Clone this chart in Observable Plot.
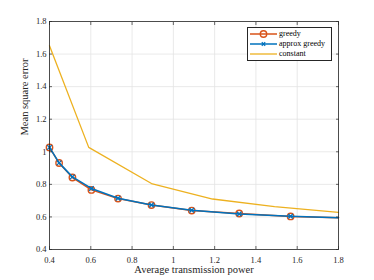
<!DOCTYPE html>
<html><head><meta charset="utf-8">
<script src="https://cdn.jsdelivr.net/npm/d3@7"></script>
<script src="https://cdn.jsdelivr.net/npm/@observablehq/plot@0.6"></script>
<style>
html,body{margin:0;padding:0;background:#fff;}
#wrap{position:relative;width:374px;height:280px;font-family:"Liberation Serif","DejaVu Serif",serif;}
#legend{position:absolute;left:247px;top:27px;width:83px;height:32px;border:0.8px solid #262626;background:#fff;font-size:8px;color:#000;}
#legend .row{position:absolute;left:2px;height:10px;display:flex;align-items:center;}
#legend svg{display:block;}
#legend span{margin-left:2px;line-height:10px;}
</style>
</head><body>
<div id="wrap"></div>
<script>
// data
const powerGreedy = [0.4, 0.4465, 0.511, 0.603, 0.732, 0.894, 1.089, 1.319, 1.568, 1.8];
const mseGreedy   = [1.027, 0.931, 0.842, 0.766, 0.713, 0.673, 0.639, 0.621, 0.603, 0.595];
const mseApprox   = [1.027, 0.932, 0.846, 0.775, 0.715, 0.673, 0.641, 0.618, 0.604, 0.595];
const powerConst  = [0.4, 0.59, 0.894, 1.19, 1.49, 1.8];
const mseConst    = [1.651, 1.027, 0.805, 0.71, 0.663, 0.628];
const xTicks = [0.4, 0.6, 0.8, 1, 1.2, 1.4, 1.6, 1.8];
const yTicks = [0.4, 0.6, 0.8, 1, 1.2, 1.4, 1.6, 1.8];
const seriesNames = ["greedy", "approx greedy", "constant"];
const seriesColors = ["#D95319", "#0072BD", "#EDB120"];

const greedy = powerGreedy.map((p, i) => ({p, v: mseGreedy[i]}));
const approx = powerGreedy.map((p, i) => ({p, v: mseApprox[i]}));
const constant = powerConst.map((p, i) => ({p, v: mseConst[i]}));
const markerData = (arr) => arr.slice(0, -1);

const fmt = d => String(d);
const axisColor = "#262626";

const chart = Plot.plot({
  width: 374, height: 280,
  marginLeft: 49, marginRight: 36, marginTop: 21, marginBottom: 31,
  style: {fontFamily: "'Liberation Serif','DejaVu Serif',serif", fontSize: "8.5px", color: axisColor, background: "#fff"},
  x: {domain: [0.4, 1.8], ticks: xTicks},
  y: {domain: [0.4, 1.8], ticks: yTicks},
  marks: [
    Plot.gridX(xTicks, {stroke: "#e3e3e3", strokeOpacity: 1, strokeWidth: 0.8}),
    Plot.gridY(yTicks, {stroke: "#e3e3e3", strokeOpacity: 1, strokeWidth: 0.8}),
    Plot.line(constant, {x: "p", y: "v", stroke: seriesColors[2], strokeWidth: 1.3}),
    Plot.line(greedy, {x: "p", y: "v", stroke: seriesColors[0], strokeWidth: 1.5}),
    Plot.dot(markerData(greedy), {x: "p", y: "v", r: 3.2, stroke: seriesColors[0], strokeWidth: 1.4, fill: "none"}),
    Plot.line(approx, {x: "p", y: "v", stroke: seriesColors[1], strokeWidth: 1.5}),
    Plot.dot(markerData(approx), {x: "p", y: "v", r: 2.2, symbol: "times", stroke: seriesColors[1], strokeWidth: 1.3}),
    Plot.frame({stroke: axisColor, strokeWidth: 0.8}),
    Plot.axisX(xTicks, {anchor: "bottom", tickSize: -3, tickPadding: 10, tickFormat: fmt, stroke: axisColor, strokeWidth: 0.7, fill: axisColor, label: null}),
    Plot.axisX(xTicks, {anchor: "top", tickSize: -3, text: null, stroke: axisColor, strokeWidth: 0.7, label: null}),
    Plot.axisY(yTicks, {anchor: "left", tickSize: -3, tickPadding: 6, tickFormat: fmt, stroke: axisColor, strokeWidth: 0.7, fill: axisColor, label: null}),
    Plot.axisY(yTicks, {anchor: "right", tickSize: -3, text: null, stroke: axisColor, strokeWidth: 0.7, label: null}),
    Plot.text(["Average transmission power"], {frameAnchor: "bottom", dy: 23.5, fontSize: 10.5, fill: axisColor}),
    Plot.text(["Mean square error"], {frameAnchor: "left", dx: -25, rotate: -90, fontSize: 10.5, fill: axisColor})
  ]
});
const wrap = document.getElementById("wrap");
wrap.appendChild(chart);

// legend
const legend = document.createElement("div");
legend.id = "legend";
seriesNames.forEach((name, i) => {
  const row = document.createElement("div");
  row.className = "row";
  row.style.top = (1 + i * 10) + "px";
  const ns = "http://www.w3.org/2000/svg";
  const s = document.createElementNS(ns, "svg");
  s.setAttribute("width", 27); s.setAttribute("height", 10);
  const l = document.createElementNS(ns, "line");
  l.setAttribute("x1", 0); l.setAttribute("x2", 27); l.setAttribute("y1", 5); l.setAttribute("y2", 5);
  l.setAttribute("stroke", seriesColors[i]); l.setAttribute("stroke-width", i === 2 ? 1.3 : 1.5);
  s.appendChild(l);
  if (i === 0) {
    const c = document.createElementNS(ns, "circle");
    c.setAttribute("cx", 13.5); c.setAttribute("cy", 5); c.setAttribute("r", 3.2);
    c.setAttribute("fill", "none"); c.setAttribute("stroke", seriesColors[0]); c.setAttribute("stroke-width", 1.4);
    s.appendChild(c);
  } else if (i === 1) {
    const p = document.createElementNS(ns, "path");
    p.setAttribute("d", "M11.8,3.3L15.2,6.7M11.8,6.7L15.2,3.3");
    p.setAttribute("stroke", seriesColors[1]); p.setAttribute("stroke-width", 1.3);
    s.appendChild(p);
  }
  row.appendChild(s);
  const t = document.createElement("span");
  t.textContent = name;
  row.appendChild(t);
  legend.appendChild(row);
});
wrap.appendChild(legend);
</script>
</body></html>
